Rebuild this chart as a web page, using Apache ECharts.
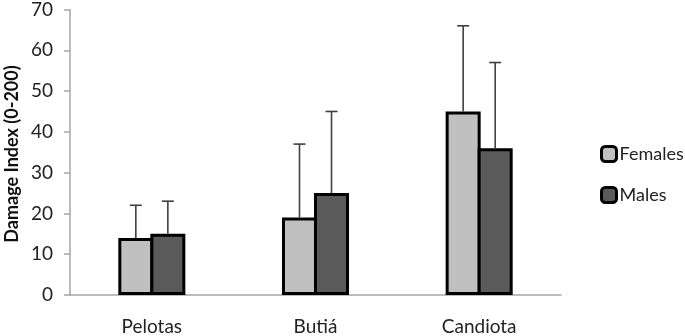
<!DOCTYPE html>
<html>
<head>
<meta charset="utf-8">
<script src="https://cdn.jsdelivr.net/npm/echarts@6/dist/echarts.min.js"></script>
<style>
  html, body { margin: 0; padding: 0; background: #fff; }
  #chart { width: 685px; height: 336px; }
</style>
</head>
<body>
<div id="chart"></div>
<script>
// data
var sites = ['Pelotas', 'Butiá', 'Candiota'];
var females = [14, 19, 45];
var males = [15, 25, 36];
var femalesSd = [8, 18, 21];
var malesSd = [8, 20, 21];
var yTicks = [0, 10, 20, 30, 40, 50, 60, 70];

var FONT = 'Lato, "Open Sans", sans-serif';
var BAR_W = 35;
var BAR_GAP = -0.085; // bars share one border line

// upper-only error bars, one per bar
function errRender(params, api) {
    var idx = api.value(0);
    var base = api.value(1);
    var top = api.value(2);
    var side = api.value(3); // -1 females, +1 males
    var p0 = api.coord([idx, base]);
    var p1 = api.coord([idx, top]);
    var x = p0[0] + side * BAR_W * (1 + BAR_GAP) / 2;
    var cap = 6;
    var st = { stroke: '#404040', lineWidth: 1.6 };
    return {
        type: 'group',
        children: [
            { type: 'line', shape: { x1: x, y1: p0[1], x2: x, y2: p1[1] }, style: st },
            { type: 'line', shape: { x1: x - cap, y1: p1[1], x2: x + cap, y2: p1[1] }, style: st }
        ]
    };
}

function errData() {
    var out = [];
    for (var i = 0; i < sites.length; i++) {
        out.push([i, females[i], females[i] + femalesSd[i], -1]);
        out.push([i, males[i], males[i] + malesSd[i], 1]);
    }
    return out;
}

function init() {
    var chart = echarts.init(document.getElementById('chart'));
    var option = {
        animation: false,
        grid: { left: 70, right: 124, top: 7, bottom: 38 },
        graphic: [{
            type: 'text',
            x: 12,
            y: 154,
            rotation: Math.PI / 2,
            style: {
                text: 'Damage Index (0-200)',
                fontFamily: FONT,
                fontSize: 18,
                fontWeight: 'bold',
                fill: '#111',
                align: 'center',
                verticalAlign: 'middle'
            }
        }],
        legend: {
            orient: 'vertical',
            left: 595,
            top: 140,
            itemWidth: 15,
            itemHeight: 15,
            itemGap: 23,
            data: ['Females', 'Males'],
            itemStyle: { borderColor: '#000', borderWidth: 3 },
            textStyle: { fontFamily: FONT, fontSize: 18, color: '#222', padding: [0, 0, 0, -2] }
        },
        xAxis: {
            type: 'category',
            data: sites,
            axisLine: { lineStyle: { color: '#a6a6a6', width: 1.5 } },
            axisTick: { show: false },
            axisLabel: { fontFamily: FONT, fontSize: 19, color: '#222', margin: 22 }
        },
        yAxis: {
            type: 'value',
            min: 0,
            max: yTicks[yTicks.length - 1],
            interval: 10,
            axisLine: { show: true, lineStyle: { color: '#a6a6a6', width: 1.5 } },
            axisTick: { show: true, length: 6, lineStyle: { color: '#a6a6a6', width: 1.5 } },
            splitLine: { show: false },
            axisLabel: { fontFamily: FONT, fontSize: 19, color: '#222', margin: 17 }
        },
        series: [
            {
                name: 'Females',
                type: 'bar',
                data: females,
                barWidth: BAR_W,
                barGap: (BAR_GAP * 100) + '%',
                itemStyle: { color: '#c0c0c0', borderColor: '#000', borderWidth: 3 }
            },
            {
                name: 'Males',
                type: 'bar',
                data: males,
                barWidth: BAR_W,
                barGap: (BAR_GAP * 100) + '%',
                itemStyle: { color: '#5a5a5a', borderColor: '#000', borderWidth: 3 }
            },
            {
                type: 'custom',
                renderItem: errRender,
                data: errData(),
                encode: { x: 0, y: [1, 2] },
                z: 3
            }
        ]
    };
    chart.setOption(option);
}

window.addEventListener('load', init, false);
</script>
</body>
</html>
